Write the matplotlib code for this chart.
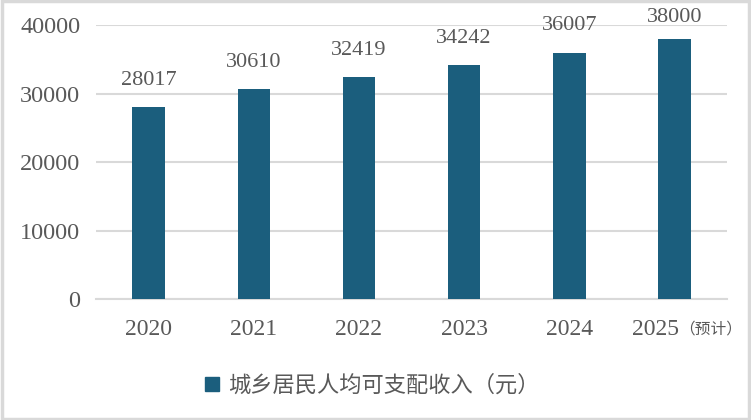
import matplotlib
matplotlib.use("Agg")
import matplotlib.pyplot as plt
from matplotlib.patches import Rectangle, Patch

categories = ["2020", "2021", "2022", "2023", "2024", "2025(预计)"]
values = [28017, 30610, 32419, 34242, 36007, 38000]
yticks = [0, 10000, 20000, 30000, 40000]
series_name = "城乡居民人均可支配收入（元）"

bar_color = "#1b5e7d"
text_color = "#595959"
grid_color = "#d9d9d9"
fonts = ["Liberation Serif", "Noto Sans CJK SC", "DejaVu Sans"]
cjk = ["Noto Sans CJK SC", "DejaVu Sans"]
plt.rcParams['font.family'] = fonts

fig = plt.figure(figsize=(7.51, 4.20), dpi=100)
ax = fig.add_axes([0.128, 0.288, 0.840, 0.652])
x = list(range(len(categories)))
ax.bar(x, values, width=0.31, color=bar_color, zorder=3)
ax.set_ylim(0, 40000)
ax.set_xlim(-0.5, len(categories) - 0.5)
ax.set_yticks(yticks)
ax.set_yticklabels([str(v) for v in yticks], fontsize=17.5, color=text_color)
ax.set_xticks(x)
ax.set_xticklabels([])
for xi, c in zip(x, categories):
    if "(" in c:
        main, extra = c.split("(")
        ax.annotate(main, (xi, 0), xytext=(3.6, -21.6), textcoords="offset points",
                    ha="right", va="center", fontsize=17, color=text_color,
                    annotation_clip=False)
        ax.annotate("（" + extra.rstrip(")") + "）", (xi, 0), xytext=(3.6, -21.6),
                    textcoords="offset points", ha="left", va="center", fontsize=11.3,
                    color=text_color, family=cjk, annotation_clip=False)
    else:
        ax.annotate(c, (xi, 0), xytext=(0, -21.6), textcoords="offset points",
                    ha="center", va="center", fontsize=17, color=text_color,
                    annotation_clip=False)
ax.tick_params(axis="both", length=0, pad=11.5)
ax.grid(axis="y", color=grid_color, linewidth=1.5, zorder=0)
for s in ["top", "right", "left"]:
    ax.spines[s].set_visible(False)
ax.spines["bottom"].set_color(grid_color)
ax.spines["bottom"].set_linewidth(1.5)

for xi, v in zip(x, values):
    ax.text(xi, min(v + 2500, 39700), str(v), ha="center", va="bottom",
            fontsize=16, color=text_color)

handle = Patch(facecolor=bar_color, edgecolor=bar_color)
leg = fig.legend([handle], [series_name], loc="center", bbox_to_anchor=(0.496, 0.083),
                 frameon=False, handlelength=0.62, handleheight=0.62, handletextpad=0.4,
                 prop={"family": cjk, "size": 16})
for t in leg.get_texts():
    t.set_color(text_color)

fig.patches.append(Rectangle((0.002, 0.003), 0.996, 0.994, transform=fig.transFigure,
                             fill=False, edgecolor=grid_color, linewidth=2.5))
fig.savefig("out.png", dpi=100)
